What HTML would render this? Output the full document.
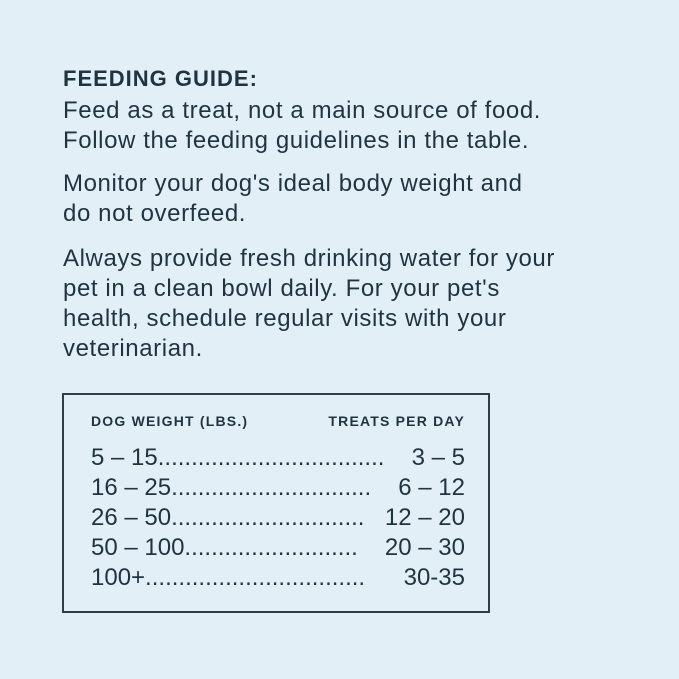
<!DOCTYPE html>
<html><head><style>
body{margin:0;width:679px;height:679px;background:#e3eff6;font-family:"Liberation Sans",sans-serif;color:#1f3440;position:relative;overflow:hidden}
.t{position:absolute;left:63px;font-size:24px;white-space:nowrap;line-height:30px;letter-spacing:0.6px}
.h{position:absolute;font-weight:bold;white-space:nowrap}
.box{position:absolute;left:62px;top:393px;width:424px;height:216px;border:2px solid #2e3f48}
.r{position:absolute;font-size:24px;white-space:nowrap;line-height:30px}
</style></head><body>
<div class="h" style="left:63px;top:66px;font-size:22px;letter-spacing:1px">FEEDING GUIDE:</div>
<div class="t" style="top:96px">Feed as a treat, not a main source of food.<br>Follow the feeding guidelines in the table.</div>
<div class="t" style="top:169px">Monitor your dog's ideal body weight and<br>do not overfeed.</div>
<div class="t" style="top:244px">Always provide fresh drinking water for your<br>pet in a clean bowl daily. For your pet's<br>health, schedule regular visits with your<br>veterinarian.</div>
<div class="box"></div>
<div class="h" style="left:91px;top:413px;font-size:14px;letter-spacing:1.2px">DOG WEIGHT (LBS.)</div>
<div class="h" style="right:214px;top:413px;font-size:14px;letter-spacing:1.2px">TREATS PER DAY</div>
<div class="r" style="left:91px;top:443px">5 – 15..................................</div>
<div class="r" style="left:91px;top:473px">16 – 25..............................</div>
<div class="r" style="left:91px;top:503px">26 – 50.............................</div>
<div class="r" style="left:91px;top:533px">50 – 100..........................</div>
<div class="r" style="left:91px;top:563px">100+.................................</div>
<div class="r" style="right:214px;top:443px">3 – 5</div>
<div class="r" style="right:214px;top:473px">6 – 12</div>
<div class="r" style="right:214px;top:503px">12 – 20</div>
<div class="r" style="right:214px;top:533px">20 – 30</div>
<div class="r" style="right:214px;top:563px">30-35</div>
</body></html>
